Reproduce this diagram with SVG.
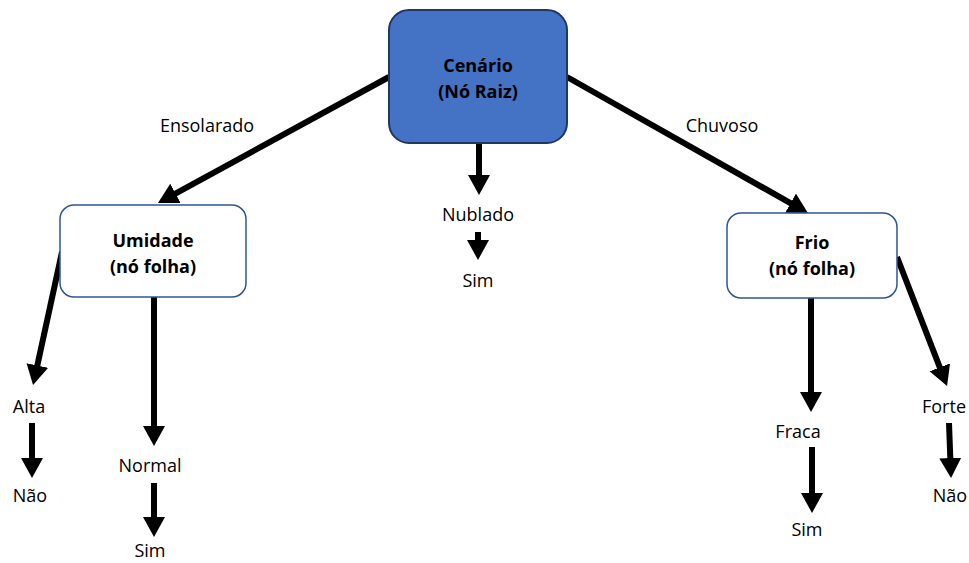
<svg xmlns="http://www.w3.org/2000/svg" width="969" height="563" viewBox="0 0 969 563">
<style>
.lbl{font-family:"Open Sans","Liberation Sans",sans-serif;font-size:18px;fill:#000;text-anchor:middle}
.nt{font-family:"Open Sans","Liberation Sans",sans-serif;font-size:18px;font-weight:bold;fill:#000;text-anchor:middle}
.root{fill:#4472C4;stroke:#1F3864;stroke-width:2}
.leaf{fill:#fff;stroke:#2F5597;stroke-width:1.5}
.arr{stroke:#000;stroke-width:6;fill:none;marker-end:url(#ah)}
</style>
<defs>
<marker id="ah" markerUnits="userSpaceOnUse" markerWidth="22" markerHeight="24" refX="8" refY="11" orient="auto" viewBox="0 0 22 24">
<path d="M0,0 L20,11 L0,22 z" fill="#000"/>
</marker>
</defs>
<rect width="969" height="563" fill="#fff"/>
<g id="connectors">
<line class="arr" x1="389" y1="77" x2="168.5" y2="197.3"/>
<line class="arr" x1="567" y1="77" x2="797.5" y2="207.1"/>
<line class="arr" x1="479" y1="143" x2="479" y2="183"/>
<line class="arr" x1="478" y1="232" x2="478" y2="248"/>
<line class="arr" x1="62" y1="252" x2="35.6" y2="373.3"/>
<line class="arr" x1="32" y1="423" x2="32" y2="466"/>
<line class="arr" x1="154" y1="297" x2="154" y2="434"/>
<line class="arr" x1="154" y1="483" x2="154" y2="525"/>
<line class="arr" x1="811" y1="298" x2="811" y2="400"/>
<line class="arr" x1="812" y1="447" x2="812" y2="501"/>
<line class="arr" x1="897" y1="257" x2="942.7" y2="374.8"/>
<line class="arr" x1="949" y1="423" x2="950.6" y2="466"/>
</g>
<g id="root">
<rect class="root" x="389" y="10" width="178" height="133" rx="20"/>
<text class="nt" x="478" y="72">Cenário</text>
<text class="nt" x="478" y="98">(Nó Raiz)</text>
</g>
<g id="umidade">
<rect class="leaf" x="60" y="205" width="186" height="92" rx="14"/>
<text class="nt" x="153" y="247">Umidade</text>
<text class="nt" x="153" y="273">(nó folha)</text>
</g>
<g id="frio">
<rect class="leaf" x="727" y="213" width="170" height="85" rx="14"/>
<text class="nt" x="812" y="249">Frio</text>
<text class="nt" x="812" y="275">(nó folha)</text>
</g>
<g id="labels">
<text class="lbl" x="207" y="132">Ensolarado</text>
<text class="lbl" x="722" y="132">Chuvoso</text>
<text class="lbl" x="478" y="221">Nublado</text>
<text class="lbl" x="478" y="287">Sim</text>
<text class="lbl" x="29" y="413">Alta</text>
<text class="lbl" x="30" y="502">Não</text>
<text class="lbl" x="150" y="472">Normal</text>
<text class="lbl" x="150" y="557">Sim</text>
<text class="lbl" x="798" y="438">Fraca</text>
<text class="lbl" x="807" y="536">Sim</text>
<text class="lbl" x="944" y="413">Forte</text>
<text class="lbl" x="950" y="502">Não</text>
</g>
</svg>
